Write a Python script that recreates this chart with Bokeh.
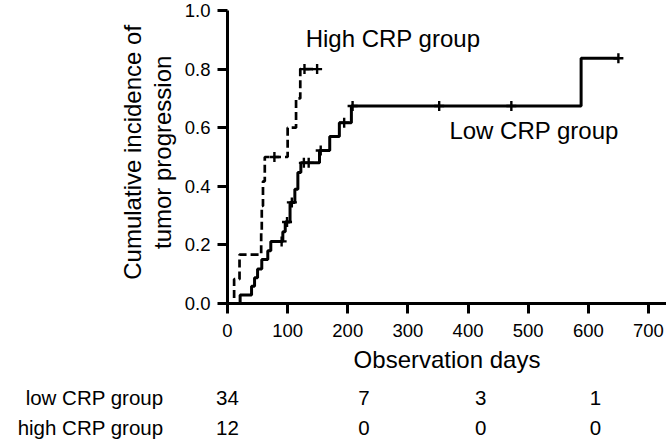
import numpy as np
from bokeh.plotting import figure
from bokeh.layouts import column, row
from bokeh.models import Range1d, FixedTicker, PrintfTickFormatter, ColumnDataSource
from bokeh.core.properties import value
from bokeh.embed import file_html
from bokeh.resources import INLINE

# ---- data ----
low_t = [0, 21, 40, 45, 50, 57, 67, 72, 92, 96, 104, 112, 117, 122, 153, 170, 186, 206, 588, 650]
low_v = [0, 0.029, 0.059, 0.088, 0.118, 0.150, 0.180, 0.212, 0.245, 0.278, 0.345, 0.39,
         0.447, 0.48, 0.522, 0.57, 0.617, 0.674, 0.837, 0.837]
low_censor = [90, 99, 107, 127, 135, 155, 194, 208, 352, 472, 650]

high_t = [0, 11, 20, 56, 57, 59, 62, 100, 114, 121, 150]
high_v = [0, 0.083, 0.167, 0.25, 0.333, 0.417, 0.5, 0.6, 0.7, 0.8, 0.8]
high_censor = [78, 128, 149]

x_ticks = [0, 100, 200, 300, 400, 500, 600, 700]
y_ticks = [0.0, 0.2, 0.4, 0.6, 0.8, 1.0]

risk_pos = [0, 227, 421, 612]
risk_low = ["34", "7", "3", "1"]
risk_high = ["12", "0", "0", "0"]
group_names = ["low CRP group", "high CRP group"]

label_high = ("High CRP group", 130, 0.904)
label_low = ("Low CRP group", 369, 0.590)

y_title = ["Cumulative incidence of", "tumor progression"]
x_title = "Observation days"

# ---- layout constants (pixels) ----
W, H = 666, 440
LEFT_W = 180          # width of the y-title panel
FRAME_L = 227         # frame left edge on the page
TOP_H = 345           # height of the plot row
X_MAX = 730
FONT = "Liberation Sans"
SCALE = (W - FRAME_L) / X_MAX   # px per day


def step_lookup(ts, vs, cs):
    ts = np.asarray(ts)
    idx = np.searchsorted(ts, cs, side="right") - 1
    return [vs[i] for i in idx]


# ---- y title panel ----
yl = figure(width=LEFT_W, height=TOP_H, output_backend="svg", toolbar_location=None,
            x_range=Range1d(0, LEFT_W), y_range=Range1d(0, TOP_H),
            x_axis_location=None, y_axis_location=None,
            min_border_left=0, min_border_right=0, min_border_top=0, min_border_bottom=0)
yl.outline_line_color = None
yl.grid.visible = False
yl.text(x=[131.7, 161.7], y=[TOP_H - 167, TOP_H - 167], text=y_title, angle=np.pi / 2,
        text_align="center", text_baseline="middle", text_font=value(FONT),
        text_font_size="24px", text_color="black")

# ---- main plot ----
p = figure(width=W - LEFT_W, height=TOP_H, output_backend="svg", toolbar_location=None,
           x_range=Range1d(0, X_MAX), y_range=Range1d(0, 1),
           min_border_left=FRAME_L - LEFT_W, min_border_right=0,
           min_border_top=10, min_border_bottom=42)
p.outline_line_color = None
p.grid.visible = False

p.step(low_t, low_v, mode="after", line_color="black", line_width=3)
p.step(high_t, high_v, mode="after", line_color="black", line_width=2.7, line_dash="8 4")

p.scatter(low_censor, step_lookup(low_t, low_v, low_censor), marker="cross", size=10,
          line_color="black", line_width=2.4)
p.scatter(high_censor, step_lookup(high_t, high_v, high_censor), marker="cross", size=10,
          line_color="black", line_width=2.4)

for lab in (label_high, label_low):
    p.text(x=[lab[1]], y=[lab[2]], text=[lab[0]], text_font=value(FONT),
           text_font_size="24px", text_baseline="middle", text_align="left", text_color="black")

for ax in (p.xaxis[0], p.yaxis[0]):
    ax.axis_line_width = 3
    ax.major_tick_line_width = 3
    ax.major_tick_out = 10
    ax.major_tick_in = 0
    ax.minor_tick_line_color = None
    ax.major_label_text_font = FONT
    ax.major_label_text_font_size = "18.5px"
    ax.major_label_text_color = "black"

p.xaxis.ticker = FixedTicker(ticks=x_ticks)
p.yaxis.ticker = FixedTicker(ticks=y_ticks)
p.yaxis.formatter = PrintfTickFormatter(format="%.1f")
p.xaxis.major_label_standoff = 10
p.yaxis.major_label_standoff = 7

# ---- x-axis title and risk table ----
TB_H = H - TOP_H
PX_UNIT = 30.0
y_top = 1 + (397 - TOP_H) / PX_UNIT
t = figure(width=W, height=TB_H, output_backend="svg", toolbar_location=None,
           x_range=Range1d(-FRAME_L / SCALE, X_MAX),
           y_range=Range1d(y_top - TB_H / PX_UNIT, y_top),
           x_axis_location=None, y_axis_location=None,
           min_border_left=0, min_border_right=0, min_border_top=0, min_border_bottom=0)
t.outline_line_color = None
t.grid.visible = False

t.text(x=[X_MAX / 2], y=[1 + (397 - 359) / PX_UNIT], text=[x_title], text_align="center",
       text_baseline="middle", text_font=value(FONT), text_font_size="24px", text_color="black")

label_x = (163 - FRAME_L) / SCALE
t.text(x=[label_x, label_x], y=[1, 0], text=group_names, text_align="right",
       text_baseline="middle", text_font=value(FONT), text_font_size="20.5px", text_color="black")

src = ColumnDataSource(dict(x=risk_pos + risk_pos,
                            y=[1] * len(risk_pos) + [0] * len(risk_pos),
                            txt=risk_low + risk_high))
t.text(x="x", y="y", text="txt", source=src, text_align="center",
       text_baseline="middle", text_font=value(FONT), text_font_size="20.5px", text_color="black")

layout = column(row(yl, p, spacing=0), t, spacing=0)
open("out.html", "w").write(file_html(layout, INLINE))
